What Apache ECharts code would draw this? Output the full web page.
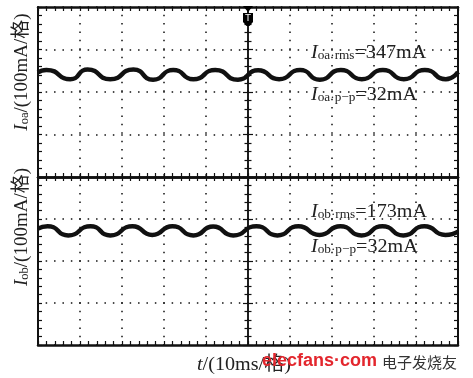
<!DOCTYPE html>
<html>
<head>
<meta charset="utf-8">
<script src="https://cdn.jsdelivr.net/npm/echarts@6/dist/echarts.min.js"></script>
<style>
html,body{margin:0;padding:0;background:#fff;}
#c{width:473px;height:378px;}
</style>
</head>
<body>
<div id="c"></div>
<script>
// time in ms (10 ms per division), current in mA (100 mA per division)
const timeA = [0, 2.0, 7.7, 11.8, 17.2, 22.7, 27.4, 32.2, 37.0, 42.2, 47.6, 52.4, 57.4, 62.4, 67.1, 72.1, 77.1, 82.1, 87.1, 92.1, 97.1, 100];
const currentA = [246, 252, 230, 253, 230, 253, 229, 252, 230, 252, 229, 251, 230, 252, 229, 252, 230, 252, 230, 252, 230, 247];
const timeB = [0, 2.3, 7.2, 12.5, 17.2, 22.5, 27.2, 32.0, 37.0, 41.7, 46.5, 52.0, 57.0, 62.0, 67.0, 72.0, 77.0, 82.0, 87.0, 92.0, 97.0, 100];
const currentB = [277, 283, 261, 283, 261, 283, 262, 283, 261, 282, 261, 283, 261, 283, 262, 283, 261, 283, 261, 283, 262, 270];
const timeRange = [0, 100];
const currentRange = [0, 400];
const labelsA = ['oa·rms', '=347mA', 'oa·p−p', '=32mA'];
const labelsB = ['ob·rms', '=173mA', 'ob·p−p', '=32mA'];

const serif = 'Liberation Serif, Times New Roman, serif';
const ink = '#111';
const dotted = { show: true, lineStyle: { color: ink, width: 1.5, type: [1.5, 6.9], dashOffset: 0.75 } };

function xAx(grid, pos, split) {
  return {
    type: 'value', gridIndex: grid, position: pos, min: timeRange[0], max: timeRange[1], interval: 10,
    axisLine: { show: true, onZero: false, lineStyle: { color: ink, width: 2.5 } },
    axisTick: { show: true, inside: true, length: 4, lineStyle: { color: ink, width: 1.2 } },
    minorTick: { show: true, splitNumber: 5, length: 4, lineStyle: { color: ink, width: 1.2 } },
    axisLabel: { show: false }, splitLine: split ? dotted : { show: false }, minorSplitLine: { show: false }
  };
}
function yAx(grid, pos, opts) {
  const o = Object.assign({ split: false, inside: true, offset: 0, len: 4, mlen: 4, width: 2 }, opts || {});
  return {
    type: 'value', gridIndex: grid, position: pos, offset: o.offset, min: currentRange[0], max: currentRange[1], interval: 100,
    axisLine: { show: true, onZero: false, lineStyle: { color: ink, width: o.width } },
    axisTick: { show: true, inside: o.inside, length: o.len, lineStyle: { color: ink, width: 1.2 } },
    minorTick: { show: true, splitNumber: 5, length: o.mlen, lineStyle: { color: ink, width: 1.2 } },
    axisLabel: { show: false }, splitLine: o.split ? dotted : { show: false }, minorSplitLine: { show: false }
  };
}

function richLabel(x, y, sub, rest) {
  return {
    type: 'text', x: x, y: y, z: 100, scaleX: 1.06,
    style: {
      text: '{i|I}{s|' + sub + '}{n|' + rest + '}',
      verticalAlign: 'middle', align: 'left',
      rich: {
        i: { fontStyle: 'italic', fontSize: 19, fontFamily: serif, fill: '#222' },
        s: { fontSize: 12.5, fontFamily: serif, fill: '#222', verticalAlign: 'bottom', lineHeight: 6 },
        n: { fontSize: 19, fontFamily: serif, fill: '#222' }
      }
    }
  };
}
function axisName(cx, cy, sub) {
  return {
    type: 'text', x: cx, y: cy, rotation: Math.PI / 2, z: 100,
    style: {
      text: '{i|I}{s|' + sub + '}{n|/(100mA/格)}',
      align: 'center', verticalAlign: 'middle',
      rich: {
        i: { fontStyle: 'italic', fontSize: 19, fontFamily: serif, fill: '#222' },
        s: { fontSize: 12.5, fontFamily: serif, fill: '#222', verticalAlign: 'bottom', lineHeight: 6 },
        n: { fontSize: 19, fontFamily: serif + ', Noto Sans CJK SC', fill: '#222' }
      }
    }
  };
}

const chart = echarts.init(document.getElementById('c'), null, { renderer: 'canvas' });
chart.setOption({
  backgroundColor: '#fff',
  animation: false,
  grid: [
    { left: 38, right: 15, top: 7, height: 170, outerBoundsMode: 'none' },
    { left: 38, right: 15, top: 177, height: 168, outerBoundsMode: 'none' }
  ],
  xAxis: [xAx(0, 'bottom', true), xAx(0, 'top', false), xAx(1, 'top', false), xAx(1, 'bottom', true)],
  yAxis: [
    yAx(0, 'left', { split: true }), yAx(0, 'right'),
    yAx(0, 'left', { offset: -210, inside: true, len: 5, mlen: 3.5, width: 1.5 }),
    yAx(0, 'left', { offset: -210, inside: false, len: 5, mlen: 3.5, width: 1.5 }),
    yAx(1, 'left', { split: true }), yAx(1, 'right'),
    yAx(1, 'left', { offset: -210, inside: true, len: 5, mlen: 3.5, width: 1.5 }),
    yAx(1, 'left', { offset: -210, inside: false, len: 5, mlen: 3.5, width: 1.5 })
  ],
  series: [
    { type: 'line', xAxisIndex: 0, yAxisIndex: 0, data: timeA.map((t, i) => [t, currentA[i]]),
      smooth: 0.6, symbol: 'none', lineStyle: { color: '#111', width: 4.5 }, z: 10 },
    { type: 'line', xAxisIndex: 3, yAxisIndex: 4, data: timeB.map((t, i) => [t, currentB[i]]),
      smooth: 0.6, symbol: 'none', lineStyle: { color: '#111', width: 4.5 }, z: 10 }
  ],
  graphic: [
    richLabel(311, 53, labelsA[0], labelsA[1]),
    richLabel(311, 95, labelsA[2], labelsA[3]),
    richLabel(311, 212, labelsB[0], labelsB[1]),
    richLabel(311, 247, labelsB[2], labelsB[3]),
    axisName(22, 72, 'oa'),
    axisName(22, 227, 'ob'),
    {
      type: 'text', x: 197, y: 365, z: 100, scaleX: 1.06,
      style: {
        text: '{i|t}{n|/(10ms/格)}', verticalAlign: 'middle',
        rich: {
          i: { fontStyle: 'italic', fontSize: 19, fontFamily: serif, fill: '#222' },
          n: { fontSize: 19, fontFamily: serif + ', Noto Sans CJK SC', fill: '#222' }
        }
      }
    },
    { type: 'text', x: 262, y: 361, z: 101,
      style: { text: 'elecfans·com', fontSize: 18, fontWeight: 'bold', fontFamily: 'Liberation Sans, Arial, sans-serif', fill: '#e3262d', verticalAlign: 'middle' } },
    { type: 'text', x: 382, y: 362, z: 101,
      style: { text: '电子发烧友', fontSize: 15, fontFamily: 'Noto Sans CJK SC', fill: '#333', verticalAlign: 'middle' } },
    { type: 'polygon', z: 101, shape: { points: [[243, 6], [253, 6], [248, 12]] }, style: { fill: '#000' } },
    { type: 'polygon', z: 101, shape: { points: [[243, 13], [253, 13], [253, 22], [249.5, 26], [246.5, 26], [243, 22]] }, style: { fill: '#000' } },
    { type: 'text', x: 248, y: 19, z: 102, style: { text: 'T', fontSize: 9, fontFamily: 'DejaVu Sans', fill: '#fff', align: 'center', verticalAlign: 'middle' } }
  ]
});
</script>
</body>
</html>
